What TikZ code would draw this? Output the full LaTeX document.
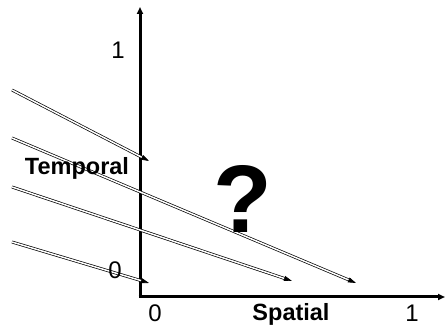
\documentclass[tikz,border=0pt]{standalone}
\usepackage{fontspec}
\setmainfont{Liberation Sans}
\usepackage{tikz}
\usetikzlibrary{arrows.meta,positioning}

\begin{document}
\begin{tikzpicture}[x=1pt,y=1pt,
		axe/.style={line width=3pt,-{Triangle[length=7pt,width=6pt]}},
		fleche/.style={double,line width=0.7pt,double distance=1.5pt,-{Triangle[length=8pt,width=5pt]}},
		chiffre/.style={font=\fontsize{24}{24}\selectfont},
		titre/.style={font=\bfseries\fontsize{23.5}{23.5}\selectfont}]
	\useasboundingbox (0,0) rectangle (445,329);
	% axes
	\coordinate (O) at (140,32);
	\coordinate (haut) at (140,322);
	\coordinate (droite) at (445,32);
	\draw[axe] (O) -- (haut);
	\draw[axe] ([xshift=-1.5pt]O) -- (droite);
	% fleches
	\coordinate (a1) at (12,239); \coordinate (b1) at (149,168);
	\coordinate (a2) at (12,191); \coordinate (b2) at (356,46);
	\coordinate (a3) at (12,142); \coordinate (b3) at (292,48);
	\coordinate (a4) at (12,87);  \coordinate (b4) at (149,46);
	\foreach \i in {1,...,4}
		\draw[fleche] (a\i) -- (b\i);
	% textes
	\node[chiffre] (un) at (118,279) {1};
	\node[titre] (temps) at (77,161) {Temporal};
	\node[chiffre] (zero) at (115,59) {0};
	\node[chiffre] (zerob) at (155,16) {0};
	\node[titre] (espace) at (291,15) {Spatial};
	\node[chiffre] (unb) at (412,16) {1};
	\node[font=\bfseries\fontsize{96}{96}\selectfont] (question) at (243,130) {?};
\end{tikzpicture}
\end{document}
